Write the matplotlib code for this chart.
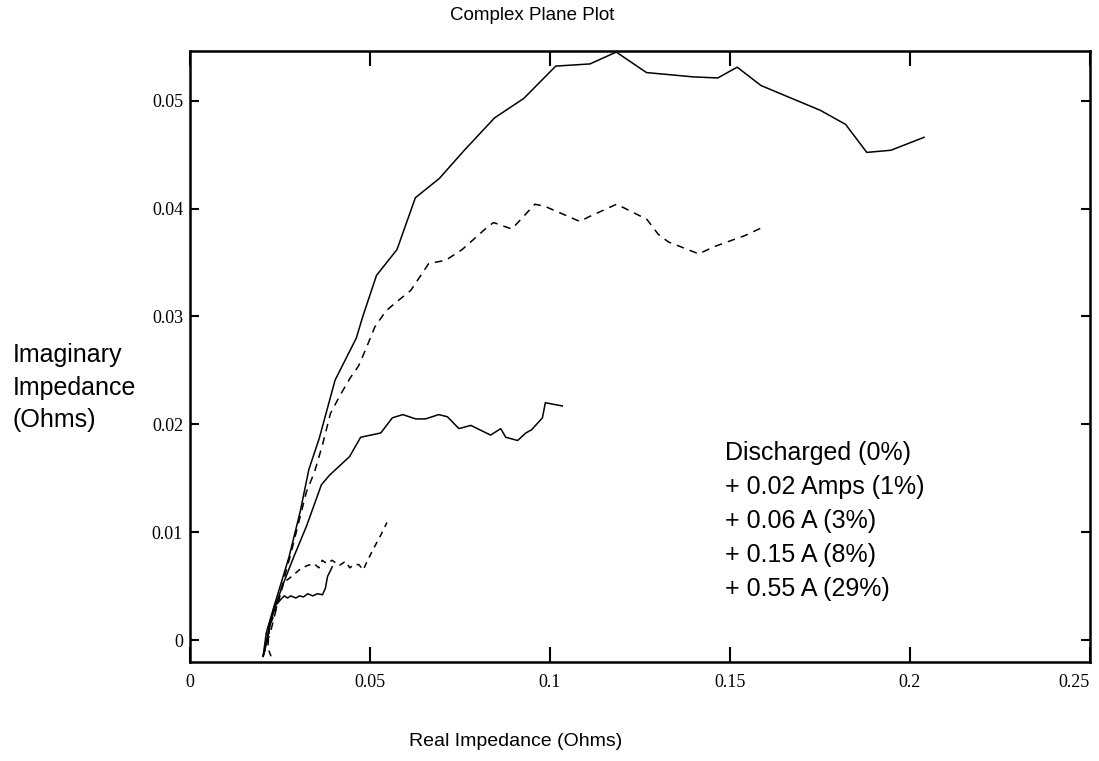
import numpy as np
import matplotlib.pyplot as plt

# complex plane (Nyquist) data
# series 1: discharged (solid, largest arc)
s1_re = [0.0203, 0.0212, 0.0234, 0.0275, 0.0306, 0.0330, 0.0359, 0.0403, 0.0462,
         0.0480, 0.0518, 0.0575, 0.0626, 0.0693, 0.0762, 0.0846, 0.0927, 0.1016,
         0.1111, 0.1184, 0.1268, 0.1398, 0.1466, 0.1520, 0.1586, 0.1751, 0.1821,
         0.1880, 0.1947, 0.2039]
s1_im = [-0.0015, 0.0007, 0.0032, 0.0077, 0.0119, 0.0158, 0.0187, 0.0241, 0.0280,
         0.0300, 0.0338, 0.0362, 0.0410, 0.0428, 0.0454, 0.0484, 0.0502, 0.0532,
         0.0534, 0.0545, 0.0526, 0.0522, 0.0521, 0.0531, 0.0514, 0.0491, 0.0478,
         0.0452, 0.0454, 0.0466]

# series 2: +0.02 Amps (dashed)
s2_re = [0.0203, 0.0227, 0.0253, 0.0280, 0.0301, 0.0323, 0.0346, 0.0368, 0.0390,
         0.0417, 0.0445, 0.0468, 0.0490, 0.0513, 0.0544, 0.0572, 0.0613, 0.0663,
         0.0710, 0.0756, 0.0820, 0.0843, 0.0894, 0.0958, 0.0986, 0.1083, 0.1106,
         0.1185, 0.1269, 0.1301, 0.1329, 0.1413, 0.1459, 0.1542, 0.1593]
s2_im = [-0.0015, 0.0012, 0.0047, 0.0080, 0.0108, 0.0137, 0.0156, 0.0181, 0.0210,
         0.0227, 0.0243, 0.0254, 0.0271, 0.0290, 0.0305, 0.0313, 0.0324, 0.0349,
         0.0352, 0.0362, 0.0381, 0.0387, 0.0381, 0.0404, 0.0402, 0.0388, 0.0392,
         0.0404, 0.0390, 0.0376, 0.0369, 0.0358, 0.0365, 0.0375, 0.0383]

# series 3: +0.06 A (solid)
s3_re = [0.0203, 0.0211, 0.0221, 0.0237, 0.0261, 0.0288, 0.0324, 0.0365, 0.0388,
         0.0443, 0.0474, 0.0530, 0.0562, 0.0591, 0.0627, 0.0654, 0.0691, 0.0715,
         0.0747, 0.0780, 0.0835, 0.0863, 0.0877, 0.0910, 0.0933, 0.0949, 0.0979,
         0.0987, 0.1034]
s3_im = [-0.0015, -0.0004, 0.0015, 0.0032, 0.0054, 0.0077, 0.0106, 0.0144, 0.0153,
         0.0170, 0.0188, 0.0192, 0.0206, 0.0209, 0.0205, 0.0205, 0.0209, 0.0207,
         0.0196, 0.0199, 0.0190, 0.0196, 0.0188, 0.0185, 0.0192, 0.0195, 0.0206,
         0.0220, 0.0217]

# series 4: +0.15 A (dashed)
s4_re = [0.0225, 0.0216, 0.0221, 0.0243, 0.0261, 0.0275, 0.0307, 0.0325, 0.0344,
         0.0358, 0.0367, 0.0380, 0.0395, 0.0414, 0.0432, 0.0444, 0.0455, 0.0469,
         0.0481, 0.0492, 0.0510, 0.0531, 0.0547]
s4_im = [-0.0015, -0.0007, 0.0012, 0.0033, 0.0054, 0.0057, 0.0066, 0.0069, 0.0071,
         0.0067, 0.0074, 0.0071, 0.0074, 0.0069, 0.0073, 0.0067, 0.0070, 0.0070,
         0.0065, 0.0073, 0.0085, 0.0098, 0.0109]

# series 5: +0.55 A (solid, short wiggly)
s5_re = [0.0203, 0.0208, 0.0217, 0.0226, 0.0237, 0.0253, 0.0262, 0.0271, 0.0280,
         0.0294, 0.0304, 0.0315, 0.0327, 0.0341, 0.0354, 0.0368, 0.0376, 0.0382,
         0.0391, 0.0395]
s5_im = [-0.0015, -0.0009, 0.0005, 0.0019, 0.0032, 0.0038, 0.0041, 0.0039, 0.0041,
         0.0039, 0.0041, 0.0040, 0.0043, 0.0041, 0.0043, 0.0042, 0.0048, 0.0059,
         0.0065, 0.0068]

legend_lines = ['Discharged (0%)', '+ 0.02 Amps (1%)', '+ 0.06 A (3%)',
                '+ 0.15 A (8%)', '+ 0.55 A (29%)']
x_ticks = [0, 0.05, 0.1, 0.15, 0.2, 0.25]
x_ticklabels = ['0', '0.05', '0.1', '0.15', '0.2', '0.25']
y_ticks = [0, 0.01, 0.02, 0.03, 0.04, 0.05]
y_ticklabels = ['0', '0.01', '0.02', '0.03', '0.04', '0.05']
ylabel_lines = ['Imaginary', 'Impedance', '(Ohms)']

sans = 'Liberation Sans'
serif = 'Liberation Serif'

fig = plt.figure(figsize=(10.99, 7.61), dpi=100)
ax = fig.add_axes([0.1729, 0.1305, 0.8189, 0.8025])

ax.plot(s1_re, s1_im, color='black', lw=1.1)
ax.plot(s2_re, s2_im, color='black', lw=1.1, dashes=(5, 4))
ax.plot(s3_re, s3_im, color='black', lw=1.1)
ax.plot(s4_re, s4_im, color='black', lw=1.1, dashes=(4, 3.5))
ax.plot(s5_re, s5_im, color='black', lw=1.1)

ax.set_xlim(0, 0.25)
ax.set_ylim(-0.002, 0.0546)
ax.set_xticks(x_ticks)
xl = ax.set_xticklabels(x_ticklabels, fontfamily=serif, fontsize=13)
xl[-1].set_horizontalalignment('right')
ax.set_yticks(y_ticks)
ax.set_yticklabels(y_ticklabels, fontfamily=serif, fontsize=13)
ax.tick_params(axis='x', direction='in', length=11, width=1.5, top=True, pad=9)
ax.tick_params(axis='y', direction='in', length=6.5, width=1.5, right=True, pad=5)
for sp in ax.spines.values():
    sp.set_linewidth(1.8)

# title and axis labels placed like the scan
fig.text(532 / 1099, 1 - 16 / 761, 'Complex Plane Plot', ha='center', va='center',
         fontfamily=sans, fontsize=13.5)
fig.text(516 / 1099, 1 - 742 / 761, 'Real Impedance (Ohms)', ha='center', va='center',
         fontfamily=sans, fontsize=14)
for i, t in enumerate(ylabel_lines):
    fig.text(13 / 1099, 1 - (362 + 32.5 * i) / 761, t, ha='left', va='baseline',
             fontfamily=sans, fontsize=18)

# text-only legend inside the plot
for i, t in enumerate(legend_lines):
    fig.text(725 / 1099, 1 - (460 + 34 * i) / 761, t, ha='left', va='baseline',
             fontfamily=sans, fontsize=18)

plt.savefig('out.png', dpi=100)
plt.close()
